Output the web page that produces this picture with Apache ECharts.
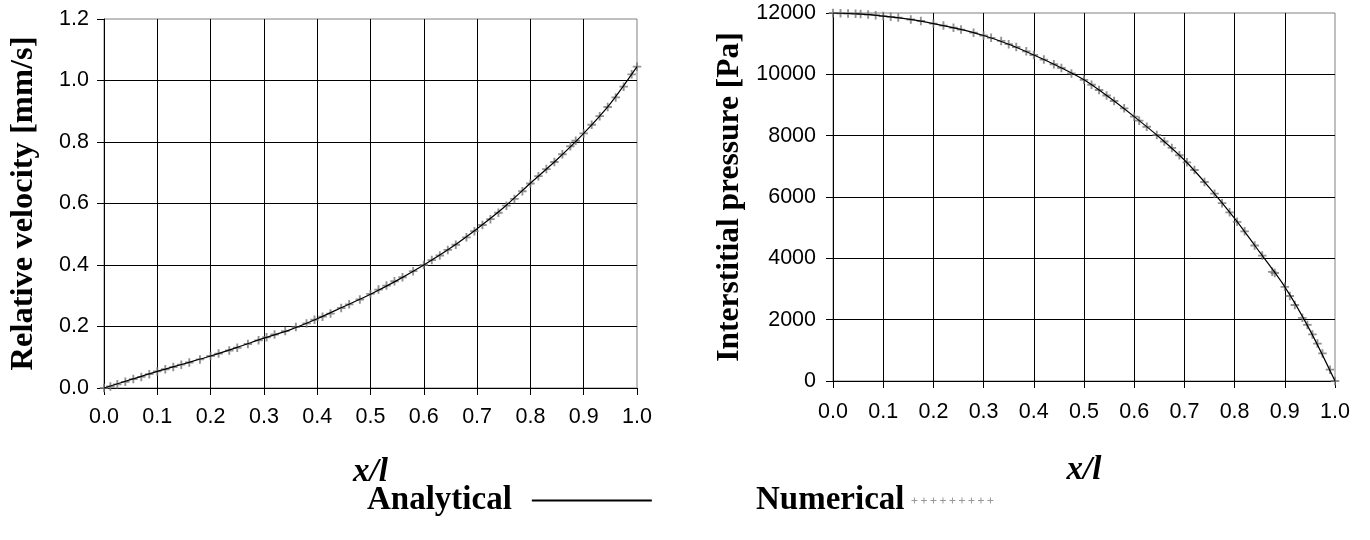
<!DOCTYPE html>
<html><head><meta charset="utf-8">
<script src="https://cdn.jsdelivr.net/npm/echarts@6/dist/echarts.min.js"></script>
<style>html,body{margin:0;padding:0;background:#fff}#c{width:1370px;height:540px}</style>
</head><body><div id="c"></div>
<script>
// ---------- data ----------
const anaX = [0,0.05,0.1,0.15,0.2,0.25,0.3,0.35,0.4,0.45,0.5,0.55,0.6,0.65,0.7,0.75,0.8,0.85,0.9,0.95,1.0];
const anaVel = [0,0.027,0.054,0.079,0.104,0.132,0.162,0.19,0.225,0.265,0.305,0.35,0.40,0.455,0.518,0.587,0.666,0.743,0.828,0.925,1.045];
const anaPres = [12000,11970,11900,11800,11655,11480,11265,10980,10630,10250,9820,9250,8620,7950,7205,6300,5300,4200,3070,1660,0];

const numVelX = [0,0.012,0.025,0.04,0.055,0.07,0.085,0.1,0.115,0.13,0.145,0.16,0.18,0.2,0.215,0.235,0.25,0.27,0.29,0.305,0.32,0.34,0.36,0.38,0.395,0.41,0.425,0.445,0.46,0.48,0.5,0.515,0.53,0.545,0.56,0.58,0.6,0.615,0.63,0.645,0.66,0.68,0.695,0.71,0.725,0.74,0.755,0.77,0.785,0.8,0.815,0.83,0.845,0.86,0.875,0.885,0.9,0.915,0.93,0.945,0.96,0.975,0.99,1.0];
const numVelY = [0,0.005,0.012,0.02,0.029,0.036,0.045,0.054,0.061,0.068,0.076,0.083,0.093,0.104,0.112,0.122,0.131,0.143,0.155,0.165,0.174,0.185,0.198,0.21,0.222,0.232,0.242,0.26,0.272,0.288,0.306,0.32,0.333,0.347,0.36,0.38,0.4,0.416,0.431,0.449,0.466,0.49,0.51,0.53,0.549,0.57,0.593,0.615,0.64,0.665,0.689,0.712,0.735,0.76,0.786,0.804,0.828,0.856,0.884,0.914,0.945,0.98,1.02,1.045];

const numPresX = [0,0.015,0.03,0.045,0.055,0.07,0.085,0.1,0.115,0.13,0.155,0.175,0.2,0.22,0.24,0.255,0.28,0.3,0.315,0.335,0.35,0.365,0.385,0.4,0.42,0.44,0.455,0.475,0.5,0.515,0.53,0.545,0.56,0.58,0.6,0.61,0.625,0.645,0.66,0.675,0.69,0.705,0.72,0.74,0.76,0.775,0.79,0.805,0.82,0.84,0.855,0.875,0.88,0.9,0.91,0.92,0.935,0.945,0.955,0.965,0.975,0.99,1.0];
const numPresY = [12000,11990,11985,11975,11965,11950,11930,11900,11875,11850,11790,11740,11655,11590,11520,11460,11360,11265,11190,11090,10985,10890,10750,10630,10480,10330,10205,10030,9820,9660,9490,9310,9130,8890,8620,8490,8290,8020,7810,7600,7360,7130,6880,6490,6110,5800,5500,5190,4880,4420,4090,3560,3520,3070,2770,2480,2060,1830,1520,1220,900,370,0];

const xTickLabels = ['0.0','0.1','0.2','0.3','0.4','0.5','0.6','0.7','0.8','0.9','1.0'];
const velTickLabels = ['0.0','0.2','0.4','0.6','0.8','1.0','1.2'];
const presTickLabels = ['0','2000','4000','6000','8000','10000','12000'];

// ---------- styling ----------
const SERIF = '"Times New Roman","Liberation Serif","DejaVu Serif",serif';
const SANS = 'Arial,"Liberation Sans",Helvetica,sans-serif';
const PLUS = 'path://M0,3.9h10v2.2h-10z M3.9,0h2.2v10h-2.2z';
let numIcon = 'path://';
for (let i = 0; i < 9; i++) { const x = i * 9.5; numIcon += `M${x},2.5h6v1h-6z M${x+2.5},0h1v6h-1z `; }
const anaIcon = 'path://M0,0h120v2h-120z';

const zip = (a, b) => a.map((v, i) => [v, b[i]]);

function xAxisCfg(gi, gap) {
  return {
    type: 'value', gridIndex: gi, min: 0, max: 1, interval: 0.1,
    name: 'x/l', nameLocation: 'middle', nameGap: gap, nameMoveOverlap: false,
    nameTextStyle: {fontFamily: SERIF, fontWeight: 'bold', fontStyle: 'italic', fontSize: 33, color: '#000'},
    axisLine: {show: true, onZero: false, lineStyle: {color: '#000', width: 1}},
    axisTick: {show: true, length: 7, lineStyle: {color: '#000', width: 1}},
    axisLabel: {fontFamily: SANS, fontSize: 21.5, color: '#000', margin: gi === 0 ? 18 : 20, showMinLabel: true, showMaxLabel: true,
      formatter: v => xTickLabels[Math.round(v * 10)]},
    splitLine: {show: true, showMinLine: false, showMaxLine: false, lineStyle: {color: '#000', width: 1}}
  };
}
function yAxisCfg(gi, max, interval, labels, name, gap, margin, fs) {
  return {
    type: 'value', gridIndex: gi, min: 0, max: max, interval: interval,
    name: name, nameLocation: 'middle', nameGap: gap, nameRotate: 90, nameMoveOverlap: false,
    nameTextStyle: {fontFamily: SERIF, fontWeight: 'bold', fontSize: fs, color: '#000'},
    axisLine: {show: true, onZero: false, lineStyle: {color: '#000', width: 1}},
    axisTick: {show: true, length: 7, lineStyle: {color: '#000', width: 1}},
    axisLabel: {fontFamily: SANS, fontSize: 21.5, color: '#000', margin: margin, showMinLabel: true, showMaxLabel: true,
      formatter: v => labels[Math.round(v / interval)]},
    splitLine: {show: true, showMinLine: false, showMaxLine: false, lineStyle: {color: '#000', width: 1}}
  };
}

const legendText = {fontFamily: SERIF, fontWeight: 'bold', fontSize: 33, color: '#000'};

const option = {
  animation: false,
  backgroundColor: '#fff',
  grid: [
    {left: 104, top: 19, width: 533, height: 369, show: true, borderColor: '#808080', borderWidth: 1, backgroundColor: 'transparent', containLabel: false, outerBoundsMode: 'none'},
    {left: 833, top: 13, width: 502, height: 368, show: true, borderColor: '#808080', borderWidth: 1, backgroundColor: 'transparent', containLabel: false, outerBoundsMode: 'none'}
  ],
  xAxis: [xAxisCfg(0, 68), xAxisCfg(1, 73)],
  yAxis: [
    yAxisCfg(0, 1.2, 0.2, velTickLabels, 'Relative velocity [mm/s]', 64, 15, 32.5),
    yAxisCfg(1, 12000, 2000, presTickLabels, 'Interstitial pressure [Pa]', 87, 17, 31.5)
  ],
  legend: [
    {data: [{name: 'Analytical', icon: anaIcon, itemStyle: {color: '#000', borderWidth: 0}}],
     left: 367, top: 484, padding: 0, itemWidth: 120, itemHeight: 2, align: 'right', selectedMode: false,
     textStyle: Object.assign({padding: [0, 15, 0, 0]}, legendText)},
    {data: [{name: 'Numerical', icon: numIcon, itemStyle: {color: '#808080', borderWidth: 0}}],
     left: 756, top: 484, padding: 0, itemWidth: 82, itemHeight: 6, align: 'right', selectedMode: false,
     textStyle: Object.assign({padding: [0, 2, 0, 0]}, legendText)}
  ],
  series: [
    {name: 'Numerical', type: 'scatter', xAxisIndex: 0, yAxisIndex: 0, data: zip(numVelX, numVelY),
     symbol: PLUS, symbolSize: 8.5, itemStyle: {color: '#777'}, z: 2, silent: true},
    {name: 'Analytical', type: 'line', xAxisIndex: 0, yAxisIndex: 0, data: zip(anaX, anaVel),
     symbol: 'none', smooth: 0.3, color: '#000', lineStyle: {color: '#000', width: 1.2}, z: 3, silent: true},
    {name: 'Numerical', type: 'scatter', xAxisIndex: 1, yAxisIndex: 1, data: zip(numPresX, numPresY),
     symbol: PLUS, symbolSize: 8.5, itemStyle: {color: '#777'}, z: 2, silent: true},
    {name: 'Analytical', type: 'line', xAxisIndex: 1, yAxisIndex: 1, data: zip(anaX, anaPres),
     symbol: 'none', smooth: 0.3, color: '#000', lineStyle: {color: '#000', width: 1.2}, z: 3, silent: true}
  ]
};

const chart = echarts.init(document.getElementById('c'), null, {renderer: 'canvas'});
chart.setOption(option);
</script>
</body></html>
